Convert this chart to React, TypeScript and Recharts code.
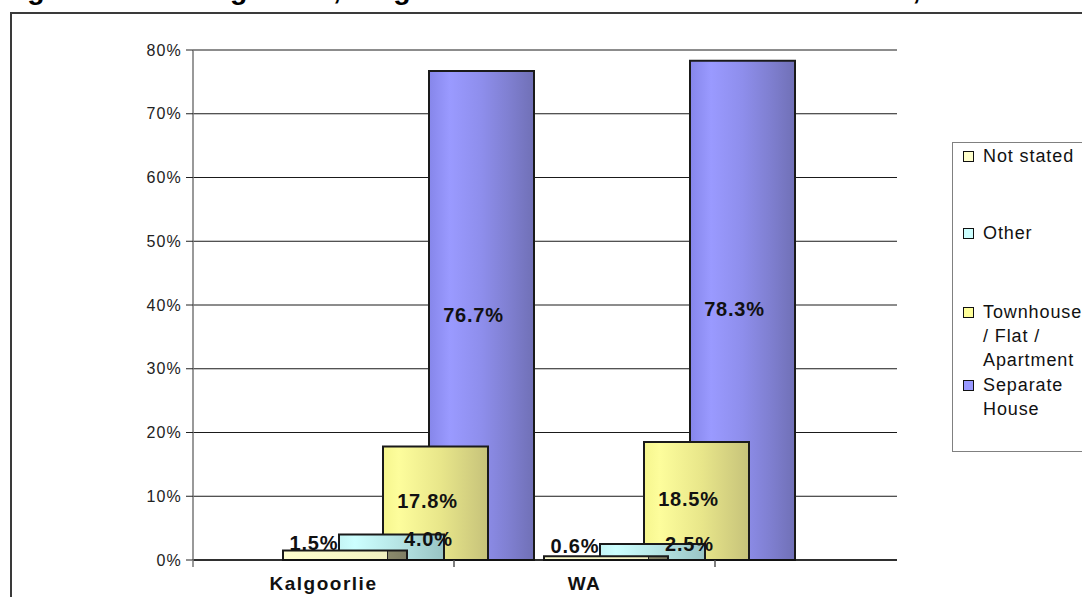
import { Bar, BarChart, CartesianGrid, LabelList, XAxis, YAxis } from 'recharts'

// values (percent of dwellings)
const categories = ['Kalgoorlie', 'WA']
const notStated = [1.5, 0.6]
const other = [4.0, 2.5]
const townhouse = [17.8, 18.5]
const separateHouse = [76.7, 78.3]
const yTicks = [0, 10, 20, 30, 40, 50, 60, 70, 80]

const TITLE = 'Figure 9: Dwelling Stock, Kalgoorlie-Boulder and Western Australia, 2006'
const FONT = '"Liberation Sans", Arial, sans-serif'

const rows = categories.map((cat, i) => ({
  cat,
  notStated: notStated[i],
  other: other[i],
  townhouse: townhouse[i],
  separateHouse: separateHouse[i],
}))

// drawn back-to-front: the last one sits on top (3D depth look of the original)
const SERIES = [
  { key: 'separateHouse', name: 'Separate House', axis: 'sh', fill: 'url(#gSH)', swatch: '#9999ff', size: 105, padL: 158, dx: -8, dy: -1 },
  { key: 'townhouse', name: 'Townhouse / Flat / Apartment', axis: 'th', fill: 'url(#gTH)', swatch: '#ffff99', size: 105, padL: 112, dx: -8, dy: -2 },
  { key: 'other', name: 'Other', axis: 'ot', fill: 'url(#gOT)', swatch: '#ccffff', size: 105, padL: 68, dx: 37, dy: -8 },
  { key: 'notStated', name: 'Not stated', axis: 'ns', fill: 'url(#gNS)', swatch: '#ffffcc', size: 124, padL: 21, dx: -31, dy: -12 },
]
const DEPTH = 182 // extra room on the right of the front axis
const LEGEND_ORDER = ['notStated', 'other', 'townhouse', 'separateHouse']
const LEGEND_TOPS = [1, 78, 157, 230]

function CategoryTick(props: any) {
  const { x, y, payload, index } = props
  const half = payload?.offset ?? 0
  return (
    <g>
      <line x1={x + half} x2={x + half} y1={y - 7} y2={y} stroke="#555" strokeWidth={1.5} />
      {index === 0 ? <line x1={x - half} x2={x - half} y1={y - 7} y2={y} stroke="#777" strokeWidth={1.5} /> : null}
      <text
        x={x}
        y={y + 23}
        textAnchor="middle"
        fontFamily={FONT}
        fontSize={19}
        fontWeight="bold"
        letterSpacing={1.5}
        fill="#111"
      >
        {payload.value}
      </text>
    </g>
  )
}

function makeLabel(dx: number, dy: number) {
  return (p: any) => {
    const { x, y, width, height, value } = p
    return (
      <text
        x={Number(x) + Number(width) / 2 + dx}
        y={Number(y) + Number(height) / 2 + dy}
        textAnchor="middle"
        dominantBaseline="central"
        fontFamily={FONT}
        fontSize={20}
        fontWeight="bold"
        letterSpacing={0.8}
        fill="#111"
      >
        {`${Number(value).toFixed(1)}%`}
      </text>
    )
  }
}

export default function App() {
  return (
    <div
      style={{
        position: 'fixed',
        left: 0,
        top: 0,
        width: 1082,
        height: 597,
        overflow: 'hidden',
        background: '#fff',
        fontFamily: FONT,
      }}
    >
      <svg width={0} height={0} style={{ position: 'absolute' }}>
        <defs>
          <linearGradient id="gSH" x1="0" x2="1" y1="0" y2="0">
            <stop offset="0" stopColor="#8686ea" />
            <stop offset="0.2" stopColor="#9a9aff" />
            <stop offset="0.5" stopColor="#8e8eec" />
            <stop offset="0.75" stopColor="#8080d2" />
            <stop offset="1" stopColor="#7070b6" />
          </linearGradient>
          <linearGradient id="gTH" x1="0" x2="1" y1="0" y2="0">
            <stop offset="0" stopColor="#f6f68e" />
            <stop offset="0.15" stopColor="#fdfd9c" />
            <stop offset="0.55" stopColor="#e8e68a" />
            <stop offset="1" stopColor="#c6c27a" />
          </linearGradient>
          <linearGradient id="gOT" x1="0" x2="1" y1="0" y2="0">
            <stop offset="0" stopColor="#c4f4f4" />
            <stop offset="0.15" stopColor="#ccffff" />
            <stop offset="0.6" stopColor="#b4e2e2" />
            <stop offset="1" stopColor="#98c4c4" />
          </linearGradient>
          <linearGradient id="gNS" x1="0" x2="1" y1="0" y2="0">
            <stop offset="0" stopColor="#ffffd0" />
            <stop offset="0.835" stopColor="#f2f2c2" />
            <stop offset="0.835" stopColor="#222" />
            <stop offset="0.85" stopColor="#222" />
            <stop offset="0.85" stopColor="#8b8a6c" />
            <stop offset="1" stopColor="#7f7e64" />
          </linearGradient>
        </defs>
      </svg>

      {/* title, mostly cut off by the top edge of the picture */}
      <svg width={1082} height={12} style={{ position: 'absolute', left: 0, top: 0 }}>
        <text x={2} y={-1} fontFamily={FONT} fontSize={28.5} fontWeight="bold" fill="#000">
          {TITLE}
        </text>
      </svg>

      <div
        style={{
          position: 'absolute',
          left: 10,
          top: 12,
          width: 1200,
          height: 700,
          border: '2px solid #3a3a3a',
          boxSizing: 'border-box',
        }}
      />

      <div style={{ position: 'absolute', left: 0, top: 0 }}>
        <BarChart
          width={1082}
          height={597}
          data={rows}
          margin={{ top: 50, right: 185, bottom: 7, left: 133 }}
        >
          <CartesianGrid horizontal vertical={false} stroke="#1a1a1a" />
          <XAxis
            xAxisId="front"
            dataKey="cat"
            type="category"
            height={30}
            padding={{ left: 0, right: DEPTH }}
            axisLine={{ stroke: '#111', strokeWidth: 1.5 }}
            tickLine={false}
            tickSize={7}
            tickMargin={0}
            tick={<CategoryTick />}
            interval={0}
          />
          {SERIES.map((s) => (
            <XAxis
              key={s.axis}
              xAxisId={s.axis}
              dataKey="cat"
              type="category"
              hide
              padding={{ left: s.padL, right: DEPTH - s.padL }}
            />
          ))}
          <YAxis
            width={60}
            domain={[0, 80]}
            ticks={yTicks}
            interval={0}
            tickFormatter={(v: number) => `${v}%`}
            tickSize={7}
            tickMargin={4}
            axisLine={{ stroke: '#777', strokeWidth: 1.5 }}
            tickLine={{ stroke: '#222' }}
            tick={{ fontFamily: FONT, fontSize: 16, fill: '#222', letterSpacing: 1.2 }}
          />
          {SERIES.map((s) => (
            <Bar
              key={s.key}
              dataKey={s.key}
              name={s.name}
              xAxisId={s.axis}
              barSize={s.size}
              fill={s.fill}
              stroke="#1a1a1a"
              strokeWidth={2}
              isAnimationActive={false}
            >
              <LabelList dataKey={s.key} content={makeLabel(s.dx, s.dy)} />
            </Bar>
          ))}
        </BarChart>
      </div>

      <div
        style={{
          position: 'absolute',
          left: 952,
          top: 142,
          width: 200,
          height: 310,
          border: '1.5px solid #808080',
          boxSizing: 'border-box',
          background: '#fff',
        }}
      >
        {LEGEND_ORDER.map((k, i) => {
          const s = SERIES.find((d) => d.key === k)!
          return (
            <div key={k} style={{ position: 'absolute', left: 10, top: LEGEND_TOPS[i], display: 'flex' }}>
              <div
                style={{
                  width: 9,
                  height: 9,
                  marginTop: 7,
                  background: s.swatch,
                  border: '1px solid #111',
                }}
              />
              <div
                style={{
                  marginLeft: 9,
                  width: 100,
                  fontSize: 18,
                  lineHeight: '24px',
                  letterSpacing: 0.9,
                  color: '#111',
                }}
              >
                {s.name}
              </div>
            </div>
          )
        })}
      </div>
    </div>
  )
}
